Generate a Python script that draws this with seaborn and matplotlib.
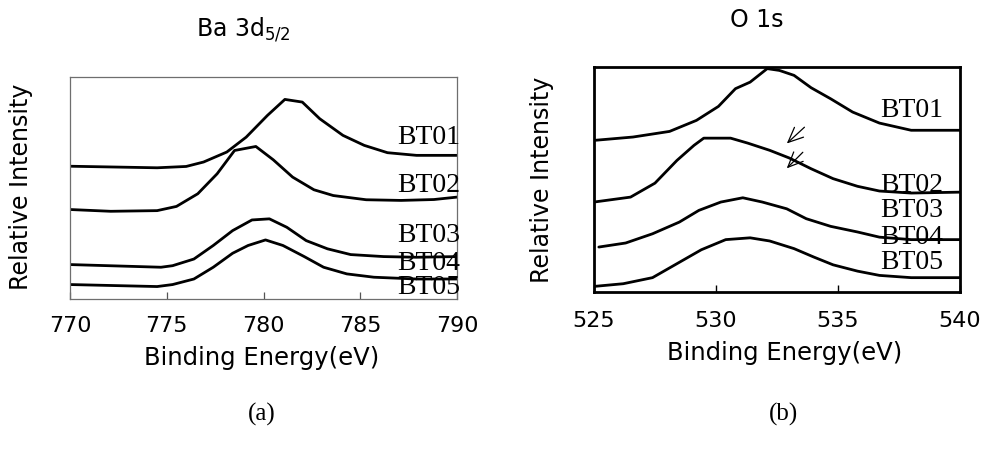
import numpy as np
import pandas as pd
import matplotlib
matplotlib.use("Agg")
import matplotlib.pyplot as plt
import seaborn as sns

# ---------------- data: Ba 3d5/2 (panel a) ----------------
ba_samples = ["BT01", "BT02", "BT03", "BT05"]
ba_energy = {
    "BT01": [770.0, 774.5, 776.0, 776.9, 778.1, 779.1, 780.2, 781.1, 782.0, 782.9, 784.1, 785.2, 786.4, 787.9, 790.0],
    "BT02": [770.0, 772.1, 774.5, 775.5, 776.6, 777.6, 778.5, 779.6, 780.5, 781.5, 782.6, 783.6, 785.3, 787.1, 788.8, 790.0],
    "BT03": [770.0, 774.7, 775.3, 776.4, 777.4, 778.4, 779.4, 780.3, 781.2, 782.2, 783.3, 784.5, 786.2, 787.9, 790.0],
    "BT05": [770.0, 774.5, 775.3, 776.4, 777.4, 778.4, 779.2, 780.1, 781.0, 782.1, 783.1, 784.3, 785.7, 787.9, 790.0],
}
ba_intensity = {
    "BT01": [59.8, 59.1, 59.7, 61.7, 66.2, 72.9, 82.7, 89.9, 88.7, 81.2, 73.7, 69.2, 65.9, 64.7, 64.7],
    "BT02": [40.3, 39.5, 39.8, 41.7, 47.4, 56.4, 66.9, 68.7, 62.7, 54.9, 49.2, 46.6, 44.7, 44.4, 44.8, 45.9],
    "BT03": [15.5, 14.3, 15.0, 18.0, 24.1, 30.8, 35.6, 36.1, 32.3, 26.3, 22.6, 20.0, 19.1, 18.8, 19.1],
    "BT05": [6.5, 5.6, 6.5, 9.0, 14.3, 20.6, 24.1, 26.6, 24.1, 19.1, 14.3, 11.3, 9.8, 9.0, 9.0],
}
ba_labels = ["BT01", "BT02", "BT03", "BT04", "BT05"]
ba_label_y = [72.9, 51.1, 28.6, 15.8, 5.3]

# ---------------- data: O 1s (panel b) ----------------
o_samples = ["BT01", "BT02", "BT03", "BT05"]
o_energy = {
    "BT01": [525.0, 526.6, 528.1, 529.2, 530.1, 530.8, 531.4, 532.1, 532.6, 533.2, 533.9, 534.7, 535.6, 536.7, 538.0, 540.0],
    "BT02": [525.0, 526.5, 527.5, 528.4, 529.1, 529.5, 530.6, 531.3, 532.2, 533.0, 533.9, 534.8, 535.8, 536.7, 538.0, 540.0],
    "BT03": [525.2, 526.3, 527.4, 528.5, 529.3, 530.2, 531.1, 531.9, 532.9, 533.7, 534.7, 535.8, 536.7, 538.0, 540.0],
    "BT05": [525.0, 526.2, 527.4, 528.4, 529.4, 530.4, 531.4, 532.2, 533.2, 534.0, 534.8, 535.8, 536.7, 538.0, 540.0],
}
o_intensity = {
    "BT01": [67.4, 68.9, 71.4, 76.3, 82.5, 90.4, 93.3, 99.3, 98.5, 96.3, 90.8, 85.9, 80.0, 75.1, 71.9, 71.9],
    "BT02": [40.0, 42.2, 48.4, 58.5, 65.2, 68.4, 68.4, 66.2, 63.0, 59.6, 54.8, 50.4, 47.0, 44.9, 44.0, 44.4],
    "BT03": [20.0, 21.8, 25.9, 31.1, 36.3, 40.0, 41.9, 40.0, 37.0, 32.6, 29.2, 26.7, 24.4, 23.3, 23.3],
    "BT05": [2.5, 3.7, 6.4, 12.6, 18.8, 23.3, 24.1, 22.7, 19.3, 15.6, 12.1, 9.3, 7.4, 6.4, 6.4],
}
o_labels = ["BT01", "BT02", "BT03", "BT04", "BT05"]
o_label_y = [80.7, 47.4, 36.3, 24.4, 13.3]

ba_ticks = [770, 775, 780, 785, 790]
o_ticks = [525, 530, 535, 540]


def long_frame(samples, energy, intensity):
    rows = []
    for s in samples:
        for e, i in zip(energy[s], intensity[s]):
            rows.append({"sample": s, "energy": e, "intensity": i})
    return pd.DataFrame(rows)


df_ba = long_frame(ba_samples, ba_energy, ba_intensity)
df_o = long_frame(o_samples, o_energy, o_intensity)

sns.set_theme(style="white")
plt.rcParams["font.family"] = ["DejaVu Sans"]
plt.rcParams["mathtext.default"] = "regular"
plt.rcParams["text.color"] = "black"
plt.rcParams["axes.labelcolor"] = "black"
plt.rcParams["xtick.labelcolor"] = "black"
plt.rcParams["axes.titlecolor"] = "black"

fig = plt.figure(figsize=(9.85, 4.5), dpi=100)
ax1 = fig.add_axes([0.0711, 0.3356, 0.393, 0.4933])
ax2 = fig.add_axes([0.603, 0.351, 0.3716, 0.5])

black = {s: "black" for s in ba_labels}

sns.lineplot(data=df_ba, x="energy", y="intensity", hue="sample", units="sample",
             estimator=None, sort=False, palette=black, legend=False, lw=2.0, ax=ax1)
sns.lineplot(data=df_o, x="energy", y="intensity", hue="sample", units="sample",
             estimator=None, sort=False, palette=black, legend=False, lw=2.0, ax=ax2)

serif = ["Liberation Serif", "DejaVu Serif"]

# panel a
ax1.set_xlim(770, 790)
ax1.set_ylim(0, 100)
ax1.set_xticks(ba_ticks)
ax1.set_yticks([])
for lab, y in zip(ba_labels, ba_label_y):
    ax1.text(790.15, y, lab, ha="right", va="center", fontsize=20, family=serif,
             color="black", clip_on=False)
for sp in ax1.spines.values():
    sp.set_color("#6e6e6e")
    sp.set_linewidth(0.9)
ax1.tick_params(axis="x", direction="in", length=5, width=0.9, color="#555555",
                labelsize=16, pad=12, bottom=True, labelcolor="black")
ax1.set_title(r"Ba 3d$_{5/2}$", fontsize=17, x=0.447, y=1.21, va="center", pad=0, color="black")
ax1.set_xlabel("Binding Energy(eV)", fontsize=17.5, color="black")
ax1.xaxis.set_label_coords(0.496, -0.265)
ax1.xaxis.label.set_va("center")
ax1.set_ylabel("Relative Intensity", fontsize=17, color="black")
ax1.yaxis.set_label_coords(-0.127, 0.505)
ax1.yaxis.label.set_va("center")

# panel b
ax2.set_xlim(525, 540)
ax2.set_ylim(0, 100)
ax2.set_xticks(o_ticks)
ax2.set_yticks([])
for lab, y in zip(o_labels, o_label_y):
    ax2.text(539.32, y, lab, ha="right", va="center", fontsize=20, family=serif, color="black")
for sp in ax2.spines.values():
    sp.set_color("black")
    sp.set_linewidth(2.0)
ax2.tick_params(axis="x", direction="in", length=5, width=1.0, color="black",
                labelsize=16, pad=14, bottom=True, labelcolor="black")
ax2.set_title("O 1s", fontsize=17, x=0.445, y=1.209, va="center", pad=0, color="black")
ax2.set_xlabel("Binding Energy(eV)", fontsize=17.5, color="black")
ax2.xaxis.set_label_coords(0.522, -0.27)
ax2.xaxis.label.set_va("center")
ax2.set_ylabel("Relative Intensity", fontsize=17, color="black")
ax2.yaxis.set_label_coords(-0.142, 0.498)
ax2.yaxis.label.set_va("center")

arrow = dict(arrowstyle="->,head_length=0.9,head_width=0.4", lw=0.9, color="black")
ax2.annotate("", xy=(532.82, 65.2), xytext=(533.71, 74.1), arrowprops=arrow)
ax2.annotate("", xy=(532.82, 54.1), xytext=(533.64, 63.0), arrowprops=arrow)

fig.text(262 / 985, 1 - 414 / 450, "(a)", ha="center", va="center", fontsize=18, family=serif)
fig.text(783 / 985, 1 - 414 / 450, "(b)", ha="center", va="center", fontsize=18, family=serif)

fig.savefig("out.png", dpi=100, facecolor="white")
